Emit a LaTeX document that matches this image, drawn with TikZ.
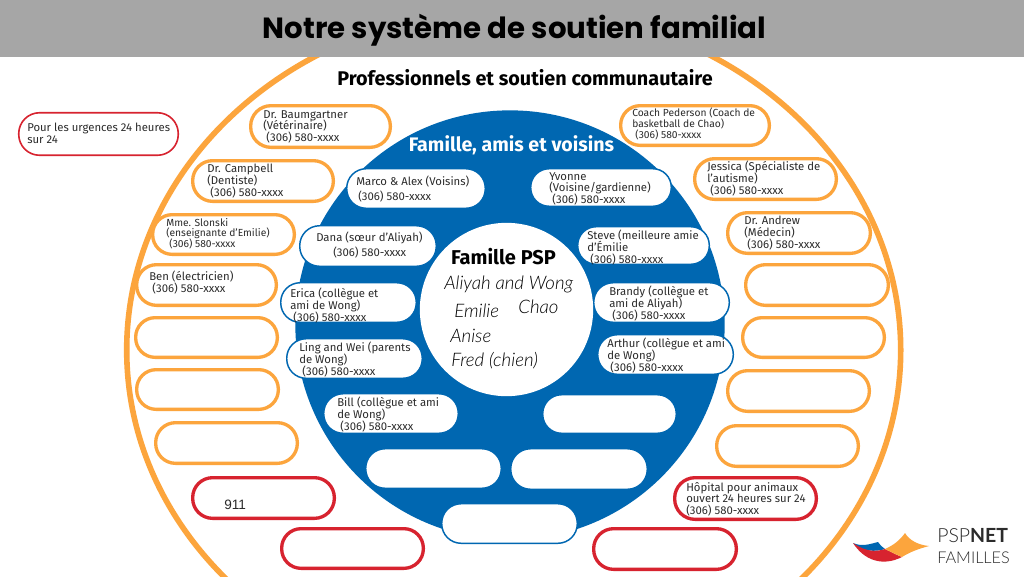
\documentclass[tikz,border=0pt]{standalone}
\usepackage{fontspec}
\usetikzlibrary{shapes.geometric}
\setmainfont{Fira Sans}
\newfontfamily\titlefont{Poppins}
\newfontfamily\handfont{Lato Light}
\newfontfamily\logofont{Lato Light}
\newfontfamily\arialfont{Liberation Sans}
\definecolor{psporange}{HTML}{FCA53D}
\definecolor{pspblue}{HTML}{0067B1}
\definecolor{pspred}{HTML}{D7232F}
\definecolor{pspgray}{HTML}{A6A6A6}
\definecolor{ink}{HTML}{2B2B2B}
\normallineskiplimit=-10pt
\lineskiplimit=-10pt
\tikzset{
  x=0.75pt,y=-0.75pt,
  orangebox/.style={draw=psporange,line width=2.5pt,fill=white},
  redbox/.style={draw=pspred,line width=2.5pt,fill=white},
  thinred/.style={draw=pspred,line width=1.2pt,fill=white},
  bluebox/.style={draw=pspblue,line width=1.1pt,fill=white},
  pilltext/.style={anchor=north west,inner sep=0pt,align=left,text=ink,font=\fontsize{8.5}{8.8}\selectfont},
  smalltext/.style={pilltext,font=\fontsize{7.7}{8.0}\selectfont},
  hand/.style={anchor=west,inner sep=0pt,text=black,font=\handfont\itshape\fontsize{14}{16}\selectfont},
}
\newcommand{\pshrink}{2.5}
\newcommand{\pill}[6]{%
  \pgfmathsetmacro{\pcx}{(#3+#5)/2}\pgfmathsetmacro{\pcy}{(#4+#6)/2}%
  \pgfmathsetmacro{\pw}{(#5-#3)*0.75-\pshrink}\pgfmathsetmacro{\ph}{(#6-#4)*0.75-\pshrink}%
  \pgfmathsetmacro{\pr}{\ph*0.49}%
  \node[#2,rectangle,rounded corners=\pr pt,minimum width=\pw pt,minimum height=\ph pt,inner sep=0pt,outer sep=0pt] (#1) at (\pcx,\pcy) {};}
\newcommand{\phonenum}{\hspace*{2.4pt}(306) 580-xxxx}
\begin{document}
\begin{tikzpicture}
\clip (0,0) rectangle (1024,576);
\fill[white] (0,0) rectangle (1024,576);
% large rings
\node[ellipse,draw=psporange,line width=4.2pt,fill=white,minimum width=580.5pt,minimum height=513pt,inner sep=0pt,outer sep=0pt] (outer) at (513.7,350) {};
\node[circle,fill=pspblue,minimum size=322pt,inner sep=0pt] (middle) at (510,325) {};
% header
\fill[pspgray] (0,0) rectangle (1024,57);
\node[inner sep=0pt,font=\titlefont\bfseries\fontsize{21.9}{24}\selectfont] (title) at (514.5,30.5) {Notre système de soutien familial};
\node[inner sep=0pt,font=\bfseries\fontsize{14.85}{16}\selectfont,text=black] (prof) at (525,78) {Professionnels et soutien communautaire};
\node[inner sep=0pt,font=\bfseries\fontsize{14.7}{16}\selectfont,text=white] (fam) at (511.5,145) {Famille, amis et voisins};
% orange boxes left
\pill{oa}{orangebox}{249}{104}{392}{149}
\pill{ob}{orangebox}{191}{159}{335}{203}
\pill{oc}{orangebox}{151}{213}{296}{256}
\pill{od}{orangebox}{135}{263}{278}{307}
\pill{oe}{orangebox}{134}{316}{279}{359}
\pill{of}{orangebox}{135}{368}{280}{411}
\pill{og}{orangebox}{154}{421}{299}{465}
% orange boxes right
\pill{pa}{orangebox}{619}{104}{771}{147}
\pill{pb}{orangebox}{693}{157}{838}{201}
\pill{pc}{orangebox}{726}{211}{872}{255}
\pill{pd}{orangebox}{744}{263}{890}{307}
\pill{pe}{orangebox}{741}{316}{886}{359}
\pill{pf}{orangebox}{726}{369}{871}{413}
\pill{pg}{orangebox}{715}{424}{860}{468}
% red boxes
\pill{rb}{redbox}{191}{476}{336}{520}
\pill{rc}{redbox}{280}{527}{425}{570}
\pill{rd}{redbox}{673}{476}{818}{521}
\pill{re}{redbox}{592}{527}{738}{571}
\renewcommand{\pshrink}{1.1}
\pill{ra}{thinred}{18}{112}{179}{156}
% blue boxes
\pill{ba}{bluebox}{346}{168}{486}{209}
\pill{bb}{bluebox}{530}{168}{672}{207}
\pill{bc}{bluebox}{299}{225}{437}{267}
\pill{bd}{bluebox}{577}{226}{710}{265}
\pill{be}{bluebox}{280}{282}{417}{323}
\pill{bf}{bluebox}{593}{282}{730}{323}
\pill{bg}{bluebox}{286}{338}{423}{379}
\pill{bh}{bluebox}{597}{334}{734}{375}
\pill{bi}{bluebox}{323}{393}{459}{434}
\pill{bj}{bluebox}{542}{394}{677}{434}
\pill{bk}{bluebox}{365}{448}{502}{489}
\pill{bl}{bluebox}{510}{448}{648}{490}
\pill{bm}{bluebox}{441}{503}{578}{544}
% centre
\node[circle,fill=white,minimum size=130pt,inner sep=0pt] (centre) at (506.5,309.5) {};
\node[inner sep=0pt,font=\bfseries\fontsize{15}{16}\selectfont,text=black] (pspf) at (503.5,257) {Famille PSP};
\node[hand] (h1) at (444,284) {Aliyah and Wong};
\node[hand] (h2) at (518,307) {Chao};
\node[hand] (h3) at (454,311) {Emilie};
\node[hand] (h4) at (450,336) {Anise};
\node[hand] (h5) at (451,361) {Fred (chien)};
% texts orange
\node[pilltext] (ta) at (263,110) {Dr. Baumgartner\\(Vétérinaire)\\\phonenum};
\node[pilltext] (tb) at (207,164) {Dr. Campbell\\(Dentiste)\\\phonenum};
\node[smalltext] (tc) at (166,218) {Mme. Slonski\\(enseignante d'Emilie)\\\phonenum};
\node[pilltext] (td) at (149,271) {Ben (électricien)\\\phonenum};
\node[smalltext] (te) at (632,108) {Coach Pederson (Coach de\\basketball de Chao)\\\phonenum};
\node[pilltext] (tf) at (707,161) {Jessica (Spécialiste de\\l'autisme)\\\phonenum};
\node[pilltext] (tg) at (744,216) {Dr. Andrew\\(Médecin)\\\phonenum};
% texts red
\node[pilltext] (th) at (27,123) {Pour les urgences 24 heures\\sur 24};
\node[pilltext] (ti) at (686,482) {Hôpital pour animaux\\ouvert 24 heures sur 24\\(306) 580-xxxx};
\node[anchor=west,inner sep=0pt,text=ink,font=\arialfont\fontsize{10.2}{12}\selectfont] (tj) at (224,505) {911};
% texts blue
\node[anchor=west,inner sep=0pt,text=ink,font=\fontsize{8.5}{9}\selectfont] (tk) at (356,182) {Marco \& Alex (Voisins)};
\node[anchor=west,inner sep=0pt,text=ink,font=\fontsize{8.5}{9}\selectfont] (tl) at (358,197) {(306) 580-xxxx};
\node[pilltext] (tm) at (549,172) {Yvonne\\(Voisine/gardienne)\\\phonenum};
\node[anchor=west,inner sep=0pt,text=ink,font=\fontsize{8.5}{9}\selectfont] (tn) at (316,238) {Dana (sœur d'Aliyah)};
\node[anchor=west,inner sep=0pt,text=ink,font=\fontsize{8.5}{9}\selectfont] (to) at (333,253) {(306) 580-xxxx};
\node[pilltext] (tp) at (587,230) {Steve (meilleure amie\\d'Émilie\\\phonenum};
\node[pilltext] (tq) at (290,288) {Erica (collègue et\\ami de Wong)\\\phonenum};
\node[pilltext] (tr) at (609,286) {Brandy (collègue et\\ami de Aliyah)\\\phonenum};
\node[pilltext] (ts) at (299,342) {Ling and Wei (parents\\de Wong)\\\phonenum};
\node[pilltext] (tt) at (607,338) {Arthur (collègue et ami\\de Wong)\\\phonenum};
\node[pilltext] (tu) at (337,397) {Bill (collègue et ami\\de Wong)\\\phonenum};
% logo
\fill[pspblue] (853,543) .. controls (862,547) and (870,544) .. (878,542) .. controls (880,545) and (882,547) .. (885,549) .. controls (876,552) and (862,552) .. (853,543) -- cycle;
\fill[pspred] (853,543) .. controls (866,552) and (876,552) .. (885,549) .. controls (891,552) and (897,555) .. (902,557) .. controls (882,567) and (864,560) .. (853,543) -- cycle;
\fill[psporange] (885,549) .. controls (894,545) and (900,540) .. (905,533) .. controls (909,540) and (918,545) .. (929,546) .. controls (918,549) and (910,552) .. (902,557) .. controls (897,555) and (891,552) .. (885,549) -- cycle;
\node[anchor=west,inner sep=0pt,text=ink,font=\logofont\fontsize{14.6}{16}\selectfont] (la) at (937,536) {PSP{\fontspec{Lato}\bfseries NET}};
\node[anchor=west,inner sep=0pt,text=ink,font=\logofont\fontsize{12.2}{14}\selectfont] (lb) at (937,558) {FAMILLES};
\end{tikzpicture}
\end{document}
